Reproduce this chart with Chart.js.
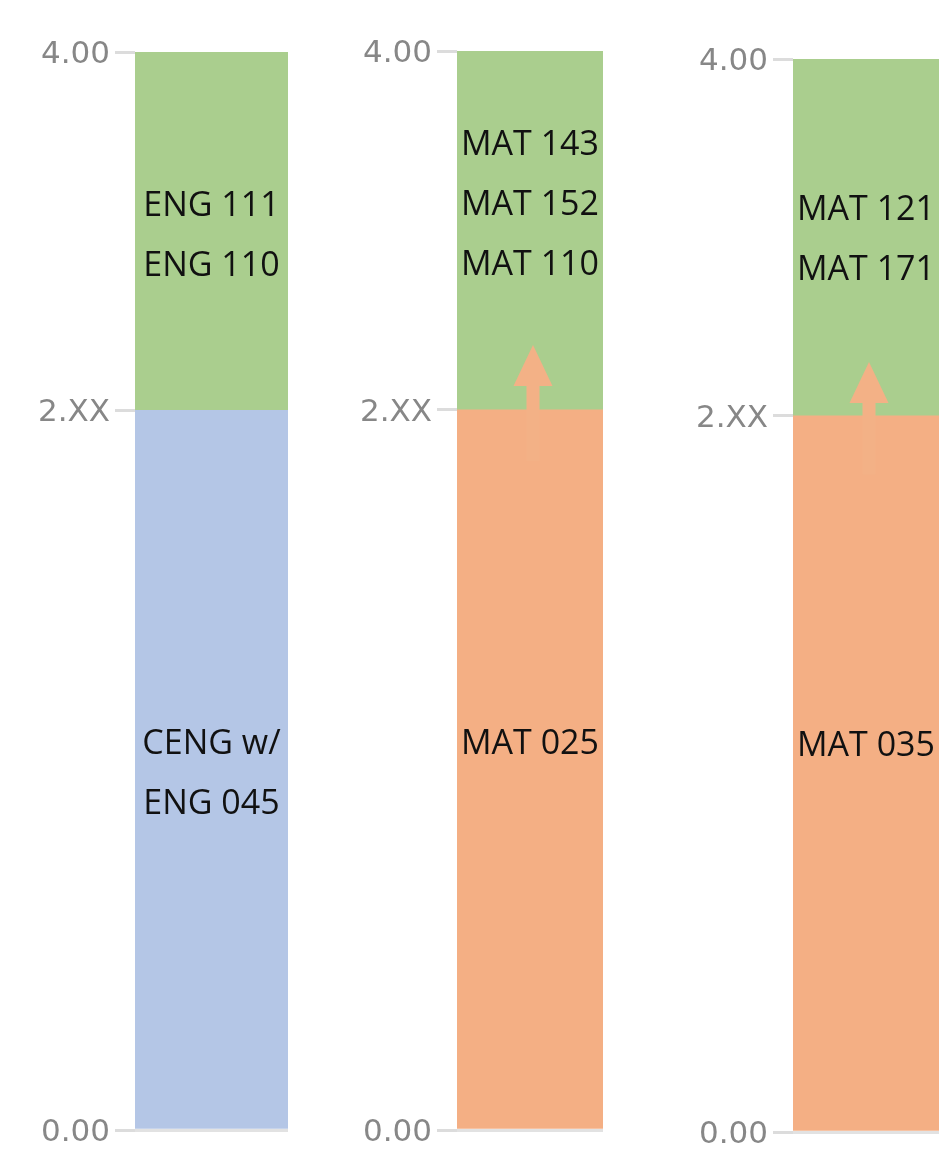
<!DOCTYPE html>
<html>
<head>
<meta charset="utf-8">
<script src="https://cdn.jsdelivr.net/npm/chart.js@4.4.1/dist/chart.umd.min.js"></script>
<style>
  body { margin: 0; background: #fff; overflow: hidden; width: 941px; height: 1149px; position: relative; }
  canvas { position: absolute; top: 0; }
</style>
</head>
<body>
<canvas id="c0" width="288" height="1180" style="left:0px"></canvas>
<canvas id="c1" width="281" height="1180" style="left:322px"></canvas>
<canvas id="c2" width="281" height="1180" style="left:658px"></canvas>
<script>
// ---- data ----
var placements = ['English', 'Math A', 'Math B'];
var lowerValues = [2.67, 2.67, 2.67];
var upperValues = [1.33, 1.33, 1.33];
var lowerCourses = [['CENG w/', 'ENG 045'], ['MAT 025'], ['MAT 035']];
var upperCourses = [['ENG 111', 'ENG 110'], ['MAT 143', 'MAT 152', 'MAT 110'], ['MAT 121', 'MAT 171']];
var arrowFrom = [null, 2.48, 2.45];
var arrowTo = [null, 2.91, 2.87];
var tickValues = [0, 2.67, 4];
var tickLabels = ['0.00', '2.XX', '4.00'];

// ---- style ----
var lowerColor = ['#b4c6e6', '#f4af84', '#f4af84'];
var upperColor = '#aace8e';
var arrowColor = '#f3b186';
var sepColor = '#e2e2e2';
var padTop = [52, 51, 59];
var padBottom = [50, 50, 48];   // canvas is 1180 tall, clipped by the page
var textShift = [[3, 3], [-27, -27], [-29, 1]];   // px nudge of each text block (lower, upper)
var textFont = '34px "Open Sans"';
var capHeight = 24;
var lineGap = 60;
var arrowShift = 3, shaft = 13, headW = 39, headLen = 41;

var labelsAndArrows = {
  id: 'labelsAndArrows',
  afterDraw: function(chart) {
    var i = chart.options.plugins.labelsAndArrows.index;
    var ctx = chart.ctx;
    var yScale = chart.scales.y;
    ctx.save();
    // arrow first, so text stays readable
    if (arrowFrom[i] != null) {
      var x = chart.getDatasetMeta(0).data[0].x + arrowShift;
      var y0 = yScale.getPixelForValue(arrowFrom[i]);
      var y1 = yScale.getPixelForValue(arrowTo[i]);
      ctx.fillStyle = arrowColor;
      ctx.fillRect(x - shaft / 2, y1 + headLen - 1, shaft, y0 - y1 - headLen + 1);
      ctx.beginPath();
      ctx.moveTo(x, y1);
      ctx.lineTo(x + headW / 2, y1 + headLen);
      ctx.lineTo(x - headW / 2, y1 + headLen);
      ctx.closePath();
      ctx.fill();
    }
    ctx.font = textFont;
    ctx.fillStyle = '#111';
    ctx.textAlign = 'center';
    ctx.textBaseline = 'alphabetic';
    [lowerCourses[i], upperCourses[i]].forEach(function(lines, d) {
      var bar = chart.getDatasetMeta(d).data[0];
      var mid = (bar.y + bar.base) / 2 + textShift[i][d];
      var top = mid - (lines.length - 1) * lineGap / 2;
      lines.forEach(function(t, k) {
        ctx.fillText(t, bar.x, top + k * lineGap + capHeight / 2);
      });
    });
    ctx.restore();
  }
};

for (var i = 0; i < placements.length; i++) {
  new Chart(document.getElementById('c' + i), {
    type: 'bar',
    data: {
      labels: [placements[i]],
      datasets: [
        { label: 'lower', data: [lowerValues[i]], backgroundColor: lowerColor[i], borderWidth: 0 },
        { label: 'upper', data: [upperValues[i]], backgroundColor: upperColor, borderWidth: 0 }
      ]
    },
    options: {
      responsive: false,
      animation: false,
      layout: { padding: { top: padTop[i], bottom: padBottom[i], left: 0, right: 0 } },
      datasets: { bar: { categoryPercentage: 1, barPercentage: 1 } },
      plugins: {
        legend: { display: false },
        tooltip: { enabled: false },
        labelsAndArrows: { index: i }
      },
      scales: {
        x: { stacked: true, display: false },
        y: {
          stacked: true,
          min: 0,
          max: 4,
          z: 1,
          afterBuildTicks: function(scale) {
            scale.ticks = tickValues.map(function(v) { return { value: v }; });
          },
          afterFit: function(scale) { scale.width = 135; },
          border: { display: false },
          grid: {
            lineWidth: 3,
            tickLength: 20,
            tickColor: '#dcdcdc',
            color: function(c) {
              return c.tick && c.tick.value < 4 ? sepColor : 'rgba(0,0,0,0)';
            }
          },
          ticks: {
            padding: 5,
            labelOffset: 3,
            color: '#878787',
            font: { family: 'DejaVu Sans', size: 31 },
            callback: function(value, index) { return tickLabels[index]; }
          }
        }
      }
    },
    plugins: [labelsAndArrows]
  });
}
</script>
</body>
</html>
